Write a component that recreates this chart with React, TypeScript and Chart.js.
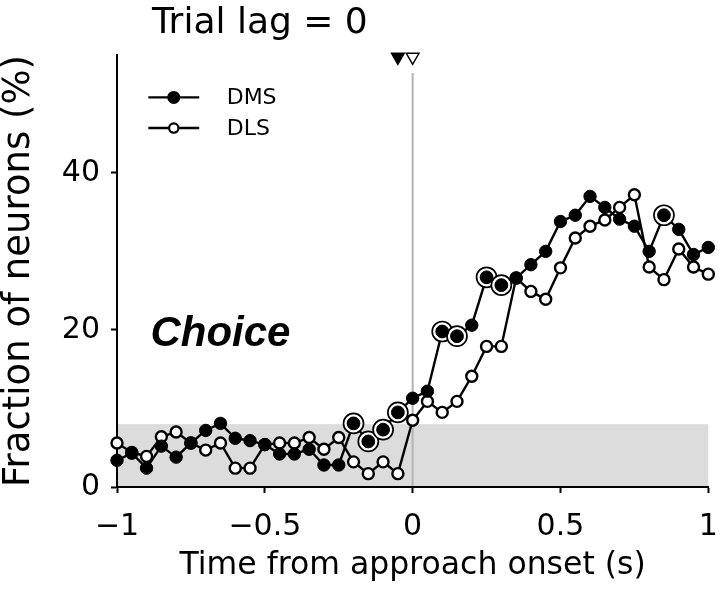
import React, { useEffect, useRef } from 'react';
import { Chart, registerables } from 'chart.js';

Chart.register(...registerables);

// ---------- data ----------
const timePoints = [
  -1, -0.95, -0.9, -0.85, -0.8, -0.75, -0.7, -0.65, -0.6, -0.55, -0.5,
  -0.45, -0.4, -0.35, -0.3, -0.25, -0.2, -0.15, -0.1, -0.05, 0,
  0.05, 0.1, 0.15, 0.2, 0.25, 0.3, 0.35, 0.4, 0.45, 0.5,
  0.55, 0.6, 0.65, 0.7, 0.75, 0.8, 0.85, 0.9, 0.95, 1,
];

const dmsValues = [
  3.4, 4.3, 2.4, 5.2, 3.8, 5.6, 7.2, 8.1, 6.2, 5.9, 5.4,
  4.2, 4.2, 4.8, 2.8, 2.8, 8.1, 5.8, 7.3, 9.5, 11.3,
  12.2, 19.8, 19.2, 20.6, 26.7, 25.7, 26.6, 28.3, 30.0, 33.8,
  34.6, 37.0, 35.6, 34.1, 33.2, 30.0, 34.6, 32.8, 29.6, 30.5,
];

const dlsValues = [
  5.6, 4.4, 3.9, 6.4, 7.0, 5.6, 4.7, 5.6, 2.4, 2.4, 5.4,
  5.6, 5.6, 6.3, 4.8, 6.3, 3.2, 1.7, 3.2, 1.7, 8.5,
  10.9, 9.5, 10.9, 14.1, 17.9, 17.9, 26.6, 24.9, 23.9, 27.9,
  31.7, 33.2, 34.0, 35.6, 37.2, 28.0, 26.4, 30.3, 28.0, 27.1,
];

// DMS time bins marked as significant (ringed)
const dmsSignificantTimes = [-0.2, -0.15, -0.1, -0.05, 0.1, 0.15, 0.25, 0.3, 0.85];

const seriesNames = ['DMS', 'DLS'];
const xTickValues = [-1, -0.5, 0, 0.5, 1];
const xTickLabels = ['\u22121', '\u22120.5', '0', '0.5', '1'];
const yTickValues = [0, 20, 40];
const yTickLabels = ['0', '20', '40'];

const chanceBandTop = 8; // shaded baseline band (0..8 %)
const onsetMarkerTimes = [-0.05, 0]; // filled (DMS), open (DLS)
const onsetMarkerLevel = 54.75;
const onsetLineTop = 52.7;

const panelTitle = 'Trial lag = 0';
const panelLabel = 'Choice';
const xAxisTitle = 'Time from approach onset (s)';
const yAxisTitle = 'Fraction of neurons (%)';

// ---------- style ----------
const FONT = "'DejaVu Sans', 'Liberation Sans', Arial, sans-serif";
const BOLD_FONT = "'Liberation Sans', Arial, sans-serif";

const decorPlugin = {
  id: 'decor',
  beforeDraw(chart: any) {
    const { ctx, width, height } = chart;
    ctx.save();
    ctx.fillStyle = '#ffffff';
    ctx.fillRect(0, 0, width, height);
    ctx.restore();
  },
  beforeDatasetsDraw(chart: any) {
    const { ctx } = chart;
    const xs = chart.scales.x;
    const ys = chart.scales.y;
    ctx.save();
    const x0 = xs.getPixelForValue(timePoints[0]) + 1;
    const x1 = xs.getPixelForValue(timePoints[timePoints.length - 1]);
    const yTop = ys.getPixelForValue(chanceBandTop);
    const yBot = ys.getPixelForValue(0) - 1;
    ctx.fillStyle = '#dcdcdc';
    ctx.fillRect(x0, yTop, x1 - x0, yBot - yTop);
    const xz = xs.getPixelForValue(0);
    ctx.strokeStyle = '#b4b4b4';
    ctx.lineWidth = 2;
    ctx.beginPath();
    ctx.moveTo(xz, ys.getPixelForValue(onsetLineTop));
    ctx.lineTo(xz, ys.getPixelForValue(0) - 1);
    ctx.stroke();
    ctx.restore();
  },
  afterDatasetsDraw(chart: any) {
    const { ctx } = chart;
    const xs = chart.scales.x;
    const ys = chart.scales.y;
    ctx.save();
    ctx.fillStyle = '#000';
    ctx.textAlign = 'left';
    ctx.textBaseline = 'alphabetic';
    ctx.font = `italic bold 42px ${BOLD_FONT}`;
    ctx.fillText(panelLabel, xs.getPixelForValue(-0.887), ys.getPixelForValue(18));
    ctx.font = `36px ${FONT}`;
    ctx.fillText(panelTitle, xs.getPixelForValue(-0.882), ys.getPixelForValue(57.8));
    const rows = [49.6, 45.7];
    rows.forEach((lv, i) => {
      const yy = ys.getPixelForValue(lv);
      const la = xs.getPixelForValue(-0.894);
      const lb = xs.getPixelForValue(-0.722);
      const lm = xs.getPixelForValue(-0.808);
      ctx.strokeStyle = '#000';
      ctx.lineWidth = 2.4;
      ctx.beginPath();
      ctx.moveTo(la, yy);
      ctx.lineTo(lb, yy);
      ctx.stroke();
      ctx.beginPath();
      if (i === 0) {
        ctx.arc(lm, yy, 6.5, 0, Math.PI * 2);
        ctx.fillStyle = '#000';
        ctx.fill();
      } else {
        ctx.arc(lm, yy, 4.7, 0, Math.PI * 2);
        ctx.fillStyle = '#fff';
        ctx.fill();
        ctx.lineWidth = 2.2;
        ctx.stroke();
      }
      ctx.fillStyle = '#000';
      ctx.font = `22px ${FONT}`;
      ctx.textBaseline = 'middle';
      ctx.fillText(seriesNames[i], xs.getPixelForValue(-0.629), yy + 1);
    });
    ctx.restore();
  },
};

export default function App() {
  const ref = useRef<HTMLCanvasElement>(null);

  useEffect(() => {
    document.body.style.margin = '0';
    const canvas = ref.current;
    if (!canvas) return;

    const dmsData = timePoints.map((t, i) => ({ x: t, y: dmsValues[i] }));
    const dlsData = timePoints.map((t, i) => ({ x: t, y: dlsValues[i] }));
    const sigData = dmsSignificantTimes.map((t) => ({
      x: t,
      y: dmsValues[timePoints.indexOf(t)],
    }));
    const markerData = onsetMarkerTimes.map((t) => ({ x: t, y: onsetMarkerLevel }));

    const chart = new Chart(canvas, {
      type: 'line',
      data: {
        datasets: [
          {
            label: 'significant-dot',
            data: sigData,
            showLine: false,
            pointStyle: 'circle',
            pointRadius: 6.4,
            pointBackgroundColor: '#000000',
            pointBorderColor: '#000000',
            pointBorderWidth: 1,
            clip: false as any,
            order: 0,
          },
          {
            label: 'significant-ring',
            data: sigData,
            showLine: false,
            pointStyle: 'circle',
            pointRadius: 10,
            pointBackgroundColor: '#ffffff',
            pointBorderColor: '#000000',
            pointBorderWidth: 1.7,
            clip: false as any,
            order: 1,
          },
          {
            label: 'onset',
            data: markerData,
            showLine: false,
            pointStyle: 'triangle',
            rotation: 180,
            pointRadius: 7.3,
            pointBackgroundColor: ['#000000', '#ffffff'],
            pointBorderColor: '#000000',
            pointBorderWidth: 1.5,
            clip: false as any,
            order: 0,
          },
          {
            label: seriesNames[0],
            data: dmsData,
            borderColor: '#000000',
            borderWidth: 2.4,
            backgroundColor: '#000000',
            pointBackgroundColor: '#000000',
            pointBorderColor: '#000000',
            pointBorderWidth: 1,
            pointRadius: 6.2,
            tension: 0,
            clip: false as any,
            order: 2,
          },
          {
            label: seriesNames[1],
            data: dlsData,
            borderColor: '#000000',
            borderWidth: 2.4,
            backgroundColor: '#ffffff',
            pointBackgroundColor: '#ffffff',
            pointBorderColor: '#000000',
            pointBorderWidth: 2.4,
            pointRadius: 5.5,
            tension: 0,
            clip: false as any,
            order: 3,
          },
        ],
      },
      options: {
        animation: false,
        responsive: false,
        devicePixelRatio: 1,
        events: [],
        layout: { padding: { top: 55, right: 11, left: 0, bottom: 0 } },
        plugins: {
          legend: { display: false },
          tooltip: { enabled: false },
        },
        scales: {
          x: {
            type: 'linear',
            min: -1,
            max: 1,
            afterBuildTicks: (s: any) => {
              s.ticks = xTickValues.map((v) => ({ value: v }));
            },
            afterFit: (s: any) => {
              s.height = 103;
              s.paddingRight = 0;
              s.paddingLeft = 0;
            },
            ticks: {
              autoSkip: false,
              maxRotation: 0,
              padding: 16,
              color: '#000',
              font: { family: FONT, size: 30 },
              callback: (v: any) => {
                const k = xTickValues.indexOf(Number(v));
                return k >= 0 ? xTickLabels[k] : '';
              },
            },
            grid: {
              display: true,
              drawOnChartArea: false,
              drawTicks: true,
              tickLength: 6,
              tickWidth: 2,
              tickColor: '#000',
            },
            border: { display: true, color: '#000', width: 2 },
            title: {
              display: true,
              text: xAxisTitle,
              color: '#000',
              font: { family: FONT, size: 31.5, lineHeight: 1 },
              padding: { top: 0, bottom: 8 },
            },
          },
          y: {
            type: 'linear',
            min: 0,
            max: 55,
            afterBuildTicks: (s: any) => {
              s.ticks = yTickValues.map((v) => ({ value: v }));
            },
            afterFit: (s: any) => {
              s.width = 117;
              s.paddingTop = 0;
              s.paddingBottom = 0;
            },
            ticks: {
              padding: 11,
              color: '#000',
              font: { family: FONT, size: 30 },
              callback: (v: any) => {
                const k = yTickValues.indexOf(Number(v));
                return k >= 0 ? yTickLabels[k] : '';
              },
            },
            grid: {
              display: true,
              drawOnChartArea: false,
              drawTicks: true,
              tickLength: 6,
              tickWidth: 2,
              tickColor: '#000',
            },
            border: { display: true, color: '#000', width: 2 },
            title: {
              display: true,
              text: yAxisTitle,
              color: '#000',
              font: { family: FONT, size: 37, lineHeight: 1 },
              padding: { top: 1, bottom: 0 },
            },
          },
        },
      },
      plugins: [decorPlugin],
    });

    return () => {
      chart.destroy();
    };
  }, []);

  return (
    <div style={{ width: 720, height: 590 }}>
      <canvas ref={ref} width={720} height={590} style={{ display: 'block', width: 720, height: 590 }} />
    </div>
  );
}
